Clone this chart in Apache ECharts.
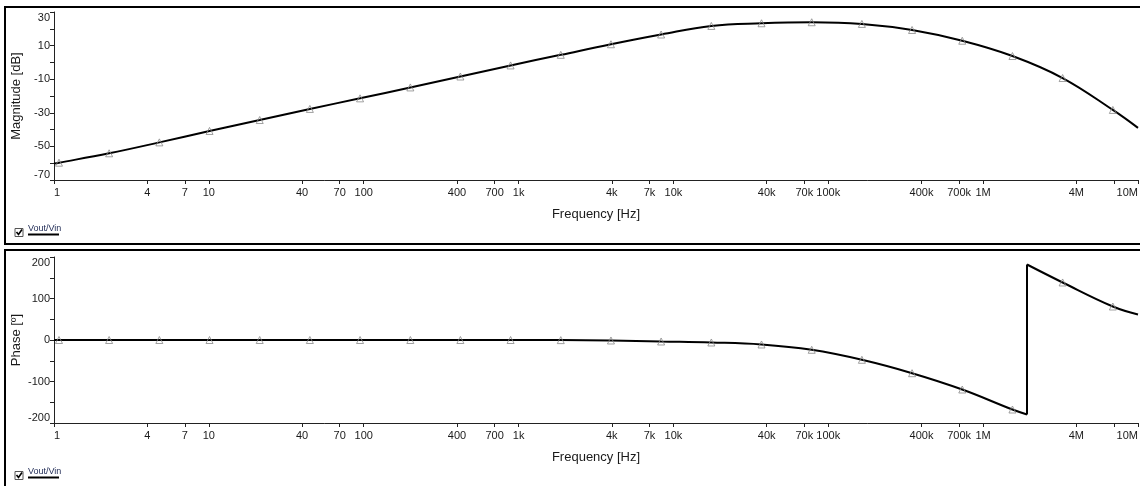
<!DOCTYPE html>
<html>
<head>
<meta charset="utf-8">
<script src="https://cdn.jsdelivr.net/npm/echarts@6/dist/echarts.min.js"></script>
<style>
html,body{margin:0;padding:0;background:#fff;}
#c{width:1140px;height:486px;}
</style>
</head>
<body>
<div id="c"></div>
<script>
// ---- data ----
const markerFreqs = [1.077, 2.27, 4.79, 10.1, 21.3, 44.9, 94.7, 200, 421, 888, 1873, 3950, 8330, 17570, 37050, 78150, 164800, 347600, 733000, 1546000, 3260000, 6880000];
const magAtMarkers = [-59.7, -54.1, -47.6, -40.8, -34.3, -27.7, -21.4, -14.9, -8.4, -1.8, 4.5, 10.8, 16.6, 21.7, 23.3, 23.9, 22.9, 19.3, 12.9, 3.8, -9.3, -28.3];
const phaseAtMarkers = [0, 0, 0, 0, 0, 0, 0, 0, 0, 0, -0.3, -1.2, -3.6, -6, -10.8, -23.6, -47.7, -80, -119.3, -167.5, 138.6, 80.7];
const startFreq = 1, magStart = -60.2, phaseStart = 0;
const endFreq = 1e7, magEnd = -39.0, phaseEnd = 61.4;
const phaseJumpFreq = 1.92e6, phaseJumpLow = -179.5, phaseJumpHigh = 181.9;

const xTickFreqs = [1, 4, 7, 10, 40, 70, 100, 400, 700, 1e3, 4e3, 7e3, 1e4, 4e4, 7e4, 1e5, 4e5, 7e5, 1e6, 4e6, 7e6, 1e7];
const xTickLabels = ['1', '4', '7', '10', '40', '70', '100', '400', '700', '1k', '4k', '7k', '10k', '40k', '70k', '100k', '400k', '700k', '1M', '4M', '', '10M'];
const magTickLabels = [-70, -50, -30, -10, 10, 30];
const phaseTickLabels = [-200, -100, 0, 100, 200];

// ---- helpers ----
const lg = f => Math.log10(f);
const xTicks = xTickFreqs.map(lg);
function fmtX(v) {
  for (let i = 0; i < xTicks.length; i++) if (Math.abs(xTicks[i] - v) < 1e-6) return xTickLabels[i];
  return '';
}
const FONT = 'Liberation Sans, Arial, sans-serif';
const TXT = '#1a1a1a';

function makeX(gi) {
  return {
    type: 'value', gridIndex: gi, min: 0, max: 7,
    name: 'Frequency [Hz]', nameLocation: 'middle', nameGap: 28, nameMoveOverlap: false,
    nameTextStyle: {fontFamily: FONT, fontSize: 13, color: TXT},
    axisLine: {show: true, onZero: false, lineStyle: {color: '#222', width: 1}},
    axisTick: {show: true, length: 4, customValues: xTicks, lineStyle: {color: '#222'}},
    axisLabel: {customValues: xTicks, formatter: fmtX, margin: 7, fontFamily: FONT, fontSize: 11, color: TXT,
      alignMinLabel: 'left', alignMaxLabel: 'right'},
    splitLine: {show: false}
  };
}
function makeY(gi, min, max, interval, labels, name, gap) {
  return {
    type: 'value', gridIndex: gi, min: min, max: max, interval: interval,
    name: name, nameLocation: 'middle', nameGap: gap, nameMoveOverlap: false,
    nameTextStyle: {fontFamily: FONT, fontSize: 13, color: TXT},
    axisLine: {show: true, onZero: false, lineStyle: {color: '#222', width: 1}},
    axisTick: {show: true, length: 4, lineStyle: {color: '#222'}},
    axisLabel: {formatter: v => (labels.indexOf(v) >= 0 ? String(v) : ''), margin: 4,
      fontFamily: FONT, fontSize: 11, color: TXT,
      verticalAlignMinLabel: 'bottom', verticalAlignMaxLabel: 'top'},
    splitLine: {show: false}
  };
}

const magLine = [[lg(startFreq), magStart]]
  .concat(markerFreqs.map((f, i) => [lg(f), magAtMarkers[i]]))
  .concat([[lg(endFreq), magEnd]]);
const magMarks = markerFreqs.map((f, i) => [lg(f), magAtMarkers[i]]);

const jumpIdx = markerFreqs.findIndex(f => f > phaseJumpFreq);
const phA = [[lg(startFreq), phaseStart]]
  .concat(markerFreqs.slice(0, jumpIdx).map((f, i) => [lg(f), phaseAtMarkers[i]]))
  .concat([[lg(phaseJumpFreq), phaseJumpLow]]);
const phB = [[lg(phaseJumpFreq), phaseJumpLow], [lg(phaseJumpFreq), phaseJumpHigh]];
const phC = [[lg(phaseJumpFreq), phaseJumpHigh]]
  .concat(markerFreqs.slice(jumpIdx).map((f, i) => [lg(f), phaseAtMarkers[jumpIdx + i]]))
  .concat([[lg(endFreq), phaseEnd]]);
const phMarks = markerFreqs.map((f, i) => [lg(f), phaseAtMarkers[i]]);

const lineBase = {type: 'line', showSymbol: false, symbol: 'none', lineStyle: {color: '#000', width: 2}, silent: true, animation: false};
const markBase = {type: 'scatter', symbol: 'triangle', symbolSize: 7,
  itemStyle: {color: 'rgba(255,255,255,0)', borderColor: '#8a8a8a', borderWidth: 1}, silent: true, animation: false, z: 5};

function legendGraphic(dy) {
  return [
    {type: 'rect', shape: {x: 15, y: 228.5 + dy, width: 8, height: 8}, style: {fill: '#fff', stroke: '#555', lineWidth: 1}},
    {type: 'polyline', shape: {points: [[16.5, 232 + dy], [18.5, 234.5 + dy], [22, 229.5 + dy]]}, style: {stroke: '#000', lineWidth: 1.6, fill: null}},
    {type: 'text', x: 28, y: 224.5 + dy, style: {text: 'Vout/Vin', font: '9px ' + FONT, fill: '#1f2a55'}},
    {type: 'line', shape: {x1: 28, y1: 234.5 + dy, x2: 59, y2: 234.5 + dy}, style: {stroke: '#000', lineWidth: 2}}
  ];
}

const chart = echarts.init(document.getElementById('c'), null, {renderer: 'canvas'});
chart.setOption({
  animation: false,
  backgroundColor: '#fff',
  grid: [
    {left: 54, right: 2, top: 12, height: 168, containLabel: false, outerBoundsMode: 'none'},
    {left: 54, right: 2, top: 257, height: 166, containLabel: false, outerBoundsMode: 'none'}
  ],
  xAxis: [makeX(0), makeX(1)],
  yAxis: [
    makeY(0, -70, 30, 10, magTickLabels, 'Magnitude [dB]', 31),
    makeY(1, -200, 200, 50, phaseTickLabels, 'Phase [º]', 31)
  ],
  series: [
    Object.assign({}, lineBase, {xAxisIndex: 0, yAxisIndex: 0, smooth: 0.4, data: magLine}),
    Object.assign({}, markBase, {xAxisIndex: 0, yAxisIndex: 0, data: magMarks}),
    Object.assign({}, lineBase, {xAxisIndex: 1, yAxisIndex: 1, smooth: 0.4, data: phA}),
    Object.assign({}, lineBase, {xAxisIndex: 1, yAxisIndex: 1, smooth: false, data: phB}),
    Object.assign({}, lineBase, {xAxisIndex: 1, yAxisIndex: 1, smooth: 0.4, data: phC}),
    Object.assign({}, markBase, {xAxisIndex: 1, yAxisIndex: 1, data: phMarks})
  ],
  graphic: [
    {type: 'rect', shape: {x: 5, y: 7, width: 1145, height: 237}, style: {fill: null, stroke: '#000', lineWidth: 2}, z: -1},
    {type: 'rect', shape: {x: 5, y: 250, width: 1145, height: 245}, style: {fill: null, stroke: '#000', lineWidth: 2}, z: -1}
  ].concat(legendGraphic(0), legendGraphic(243))
});
</script>
</body>
</html>
